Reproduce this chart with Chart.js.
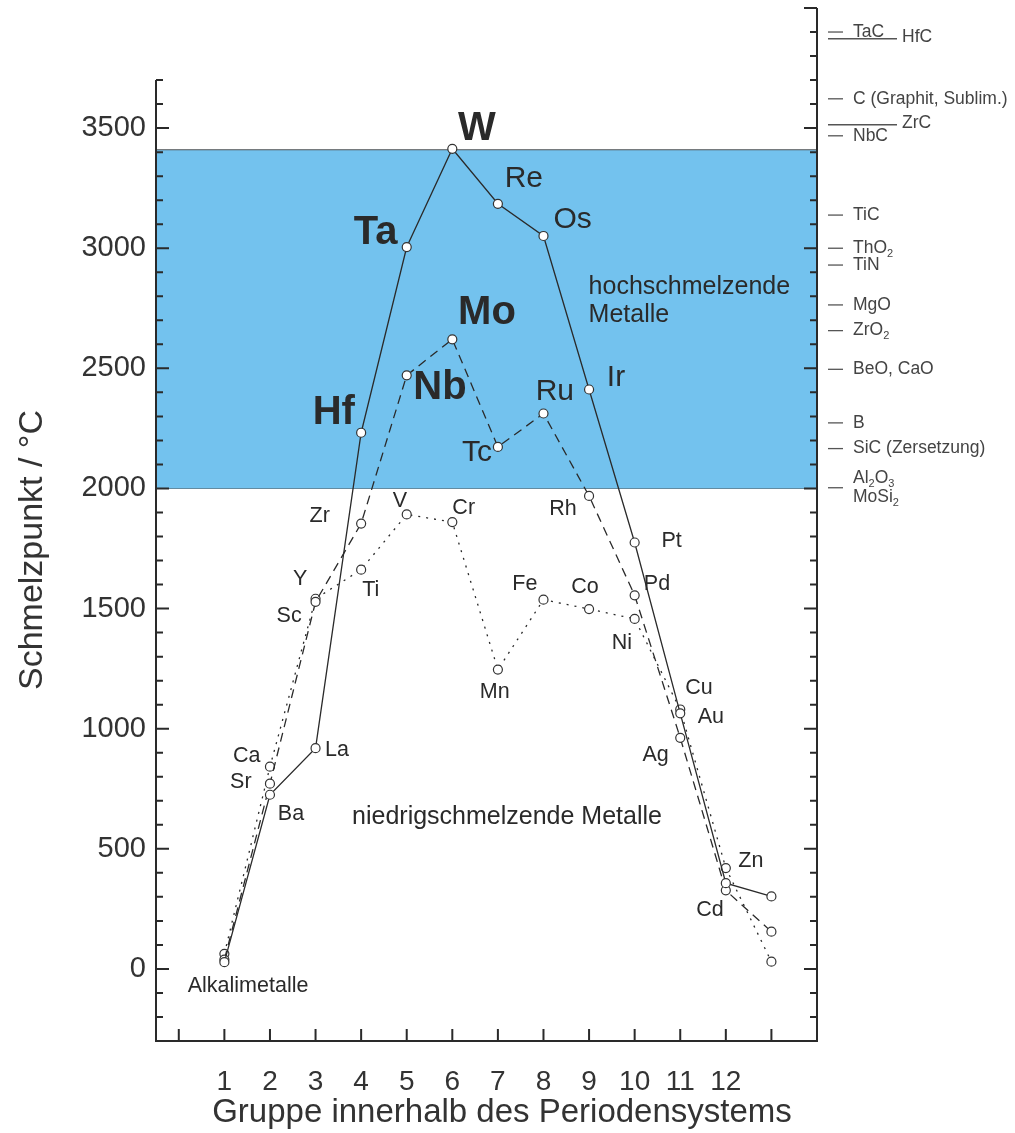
<!DOCTYPE html>
<html>
<head>
<meta charset="utf-8">
<script src="https://cdn.jsdelivr.net/npm/chart.js@4/dist/chart.umd.min.js"></script>
<style>
body { margin: 0; background: #fff; }
canvas { display: block; }
</style>
</head>
<body>
<canvas id="chart" width="1015" height="1133"></canvas>
<script>
// {{{ data
const groups = [1, 2, 3, 4, 5, 6, 7, 8, 9, 10, 11, 12, 13];
const groupTicks = ['1', '2', '3', '4', '5', '6', '7', '8', '9', '10', '11', '12'];
const tempTicks = [0, 500, 1000, 1500, 2000, 2500, 3000, 3500];
// period 4 (dotted), 5 (dashed), 6 (solid)
const period4Temp = [63, 842, 1541, 1662, 1892, 1860, 1246, 1537, 1498, 1457, 1080, 420, 30];
const period5Temp = [39, 771, 1528, 1854, 2471, 2621, 2173, 2312, 1969, 1555, 962, 327, 155];
const period6Temp = [28, 725, 919, 2232, 3005, 3414, 3185, 3051, 2412, 1775, 1064, 357, 302];
const bandLow = 2000;
const bandHigh = 3410;
const compounds = ['TaC', 'HfC', 'C (Graphit, Sublim.)', 'ZrC', 'NbC', 'TiC', 'ThO_2', 'TiN', 'MgO', 'ZrO_2', 'BeO, CaO', 'B', 'SiC (Zersetzung)', 'Al_2O_3\nMoSi_2'];
const compoundTemp = [3900, 3872, 3622, 3514, 3468, 3138, 3000, 2930, 2764, 2657, 2496, 2273, 2166, 2003];
// }}}

// {{{ labels
const longTick = ['HfC', 'ZrC'];
const labels =
[
  ['W', 6.54, 3496, 'big'], ['Ta', 4.32, 3063, 'big'], ['Mo', 6.76, 2729, 'big'],
  ['Hf', 3.40, 2313, 'big'], ['Nb', 5.73, 2417, 'big'],
  ['Re', 7.57, 3288, 'mid'], ['Os', 8.64, 3117, 'mid'], ['Ir', 9.59, 2463, 'mid'],
  ['Ru', 8.25, 2404, 'mid'], ['Tc', 6.54, 2150, 'mid'],
  ['hochschmelzende', 8.99, 2838, 'areaL'], ['Metalle', 8.99, 2721, 'areaL'],
  ['niedrigschmelzende Metalle', 7.2, 633, 'area'],
  ['Alkalimetalle', 1.52, -71, 'small'],
  ['Zr', 3.09, 1883, 'small'], ['Y', 2.66, 1621, 'small'], ['Sc', 2.42, 1467, 'small'],
  ['V', 4.85, 1946, 'small'], ['Cr', 6.25, 1917, 'small'], ['Ti', 4.21, 1575, 'small'],
  ['Rh', 8.43, 1913, 'small'], ['Pt', 10.81, 1783, 'small'], ['Pd', 10.49, 1600, 'small'],
  ['Fe', 7.59, 1600, 'small'], ['Co', 8.91, 1588, 'small'], ['Ni', 9.72, 1358, 'small'],
  ['Mn', 6.93, 1154, 'small'], ['Cu', 11.41, 1171, 'small'], ['Au', 11.67, 1050, 'small'],
  ['Ag', 10.46, 892, 'small'], ['Zn', 12.55, 450, 'small'], ['Cd', 11.65, 246, 'small'],
  ['Ca', 1.49, 888, 'small'], ['Sr', 1.36, 779, 'small'], ['Ba', 2.46, 646, 'small'],
  ['La', 3.47, 913, 'small']
];
const FONT = '"Liberation Sans", Arial, sans-serif';
const labelFont =
{
  big: 'bold 40px ' + FONT,
  mid: '30px ' + FONT,
  area: '25px ' + FONT,
  areaL: '25px ' + FONT,
  small: '21.5px ' + FONT
};
// }}}

// {{{ richText()
function richText(ctx, s, x, y, size)
{
  const parts = s.split(/_(\d)/);
  for (let i = 0; i < parts.length; i++)
  {
    const sub = (i % 2 == 1);
    ctx.font = (sub ? Math.round(size * 0.6) : size) + 'px ' + FONT;
    ctx.fillText(parts[i], x, y + (sub ? size * 0.3 : 0));
    x += ctx.measureText(parts[i]).width;
  }
}
// }}}

// {{{ series()
function series(temps, dash)
{
  return {
    data: groups.map((g, i) => ({x: g, y: temps[i]})),
    borderColor: '#2a2a2a',
    borderWidth: 1.3,
    borderDash: dash,
    pointRadius: 4.5,
    pointBackgroundColor: '#fff',
    pointBorderColor: '#333',
    pointBorderWidth: 1.2,
    fill: false,
    tension: 0
  };
}
// }}}

// {{{ frame plugin
const frame =
{
  id: 'frame',
  afterDatasetsDraw(chart)
  {
    const ctx = chart.ctx;
    const a = chart.chartArea;
    const x = chart.scales.x;
    const y = chart.scales.y;
    ctx.save();
    // point and area labels
    ctx.fillStyle = '#2a2a2a';
    ctx.textBaseline = 'middle';
    for (let [t, gx, v, k] of labels)
    {
      ctx.font = labelFont[k];
      ctx.textAlign = (k == 'areaL') ? 'left' : 'center';
      ctx.fillText(t, x.getPixelForValue(gx), y.getPixelForValue(v));
    }
    // axes
    ctx.strokeStyle = '#2a2a2a';
    ctx.lineWidth = 2;
    ctx.beginPath();
    ctx.moveTo(a.left, y.getPixelForValue(3700));
    ctx.lineTo(a.left, a.bottom);
    ctx.lineTo(a.right, a.bottom);
    ctx.lineTo(a.right, a.top);
    for (let v = -200; v <= 3700; v += 100)
    {
      const py = y.getPixelForValue(v);
      ctx.moveTo(a.left, py);
      ctx.lineTo(a.left + (v % 500 == 0 ? 13 : 7), py);
    }
    for (let v = -200; v <= 4000; v += 100)
    {
      const py = y.getPixelForValue(v);
      ctx.moveTo(a.right, py);
      ctx.lineTo(a.right - (v % 500 == 0 ? 13 : 7), py);
    }
    for (let g = 0; g <= 13; g++)
    {
      const px = x.getPixelForValue(g);
      ctx.moveTo(px, a.bottom);
      ctx.lineTo(px, a.bottom - 12);
    }
    ctx.stroke();
    // tick labels
    ctx.fillStyle = '#333';
    ctx.font = '29px ' + FONT;
    ctx.textAlign = 'right';
    for (let v of tempTicks)
    {
      ctx.fillText(String(v), a.left - 10, y.getPixelForValue(v));
    }
    ctx.textAlign = 'center';
    ctx.font = '28px ' + FONT;
    groupTicks.forEach((t, i) =>
    {
      ctx.fillText(t, x.getPixelForValue(i + 1), a.bottom + 41);
    });
    // axis titles
    ctx.font = '33px ' + FONT;
    ctx.fillText('Gruppe innerhalb des Periodensystems', 502, a.bottom + 72);
    ctx.save();
    ctx.translate(33, 550);
    ctx.rotate(-Math.PI / 2);
    ctx.font = '34px ' + FONT;
    ctx.fillText('Schmelzpunkt / °C', 0, 0);
    ctx.restore();
    // compounds on the right axis
    ctx.textAlign = 'left';
    ctx.fillStyle = '#444';
    ctx.strokeStyle = '#555';
    ctx.lineWidth = 1.3;
    compounds.forEach((c, i) =>
    {
      const py = y.getPixelForValue(compoundTemp[i]);
      const long = longTick.includes(c);
      ctx.beginPath();
      ctx.moveTo(a.right + 11, py);
      ctx.lineTo(a.right + (long ? 80 : 26), py);
      ctx.stroke();
      const tx = a.right + (long ? 85 : 36);
      const lines = c.split('\n');
      lines.forEach((l, j) =>
      {
        const off = (j - (lines.length - 1) / 2) * 19;
        richText(ctx, l, tx, py + off - (long ? 2 : 0), 17.5);
      });
    });
    ctx.restore();
  }
};
// }}}

new Chart(document.getElementById('chart'),
{
  type: 'line',
  data:
  {
    datasets:
    [
      series(period6Temp, []),
      series(period5Temp, [9, 6]),
      series(period4Temp, [2, 6]),
      {
        data: [{x: -0.5, y: bandHigh}, {x: 14, y: bandHigh}],
        borderColor: '#555',
        borderWidth: 1.2,
        pointRadius: 0,
        fill: {value: bandLow},
        backgroundColor: '#73C2EE'
      },
      {
        data: [{x: -0.5, y: bandLow}, {x: 14, y: bandLow}],
        borderColor: '#555',
        borderWidth: 1.2,
        pointRadius: 0,
        fill: false
      }
    ]
  },
  options:
  {
    responsive: false,
    animation: false,
    layout: {padding: {left: 156, right: 198, top: 8, bottom: 92}},
    plugins: {legend: {display: false}, tooltip: {enabled: false}},
    scales:
    {
      x: {type: 'linear', min: -0.5, max: 14, display: false},
      y: {type: 'linear', min: -300, max: 4000, display: false}
    }
  },
  plugins: [frame]
});
</script>
</body>
</html>
